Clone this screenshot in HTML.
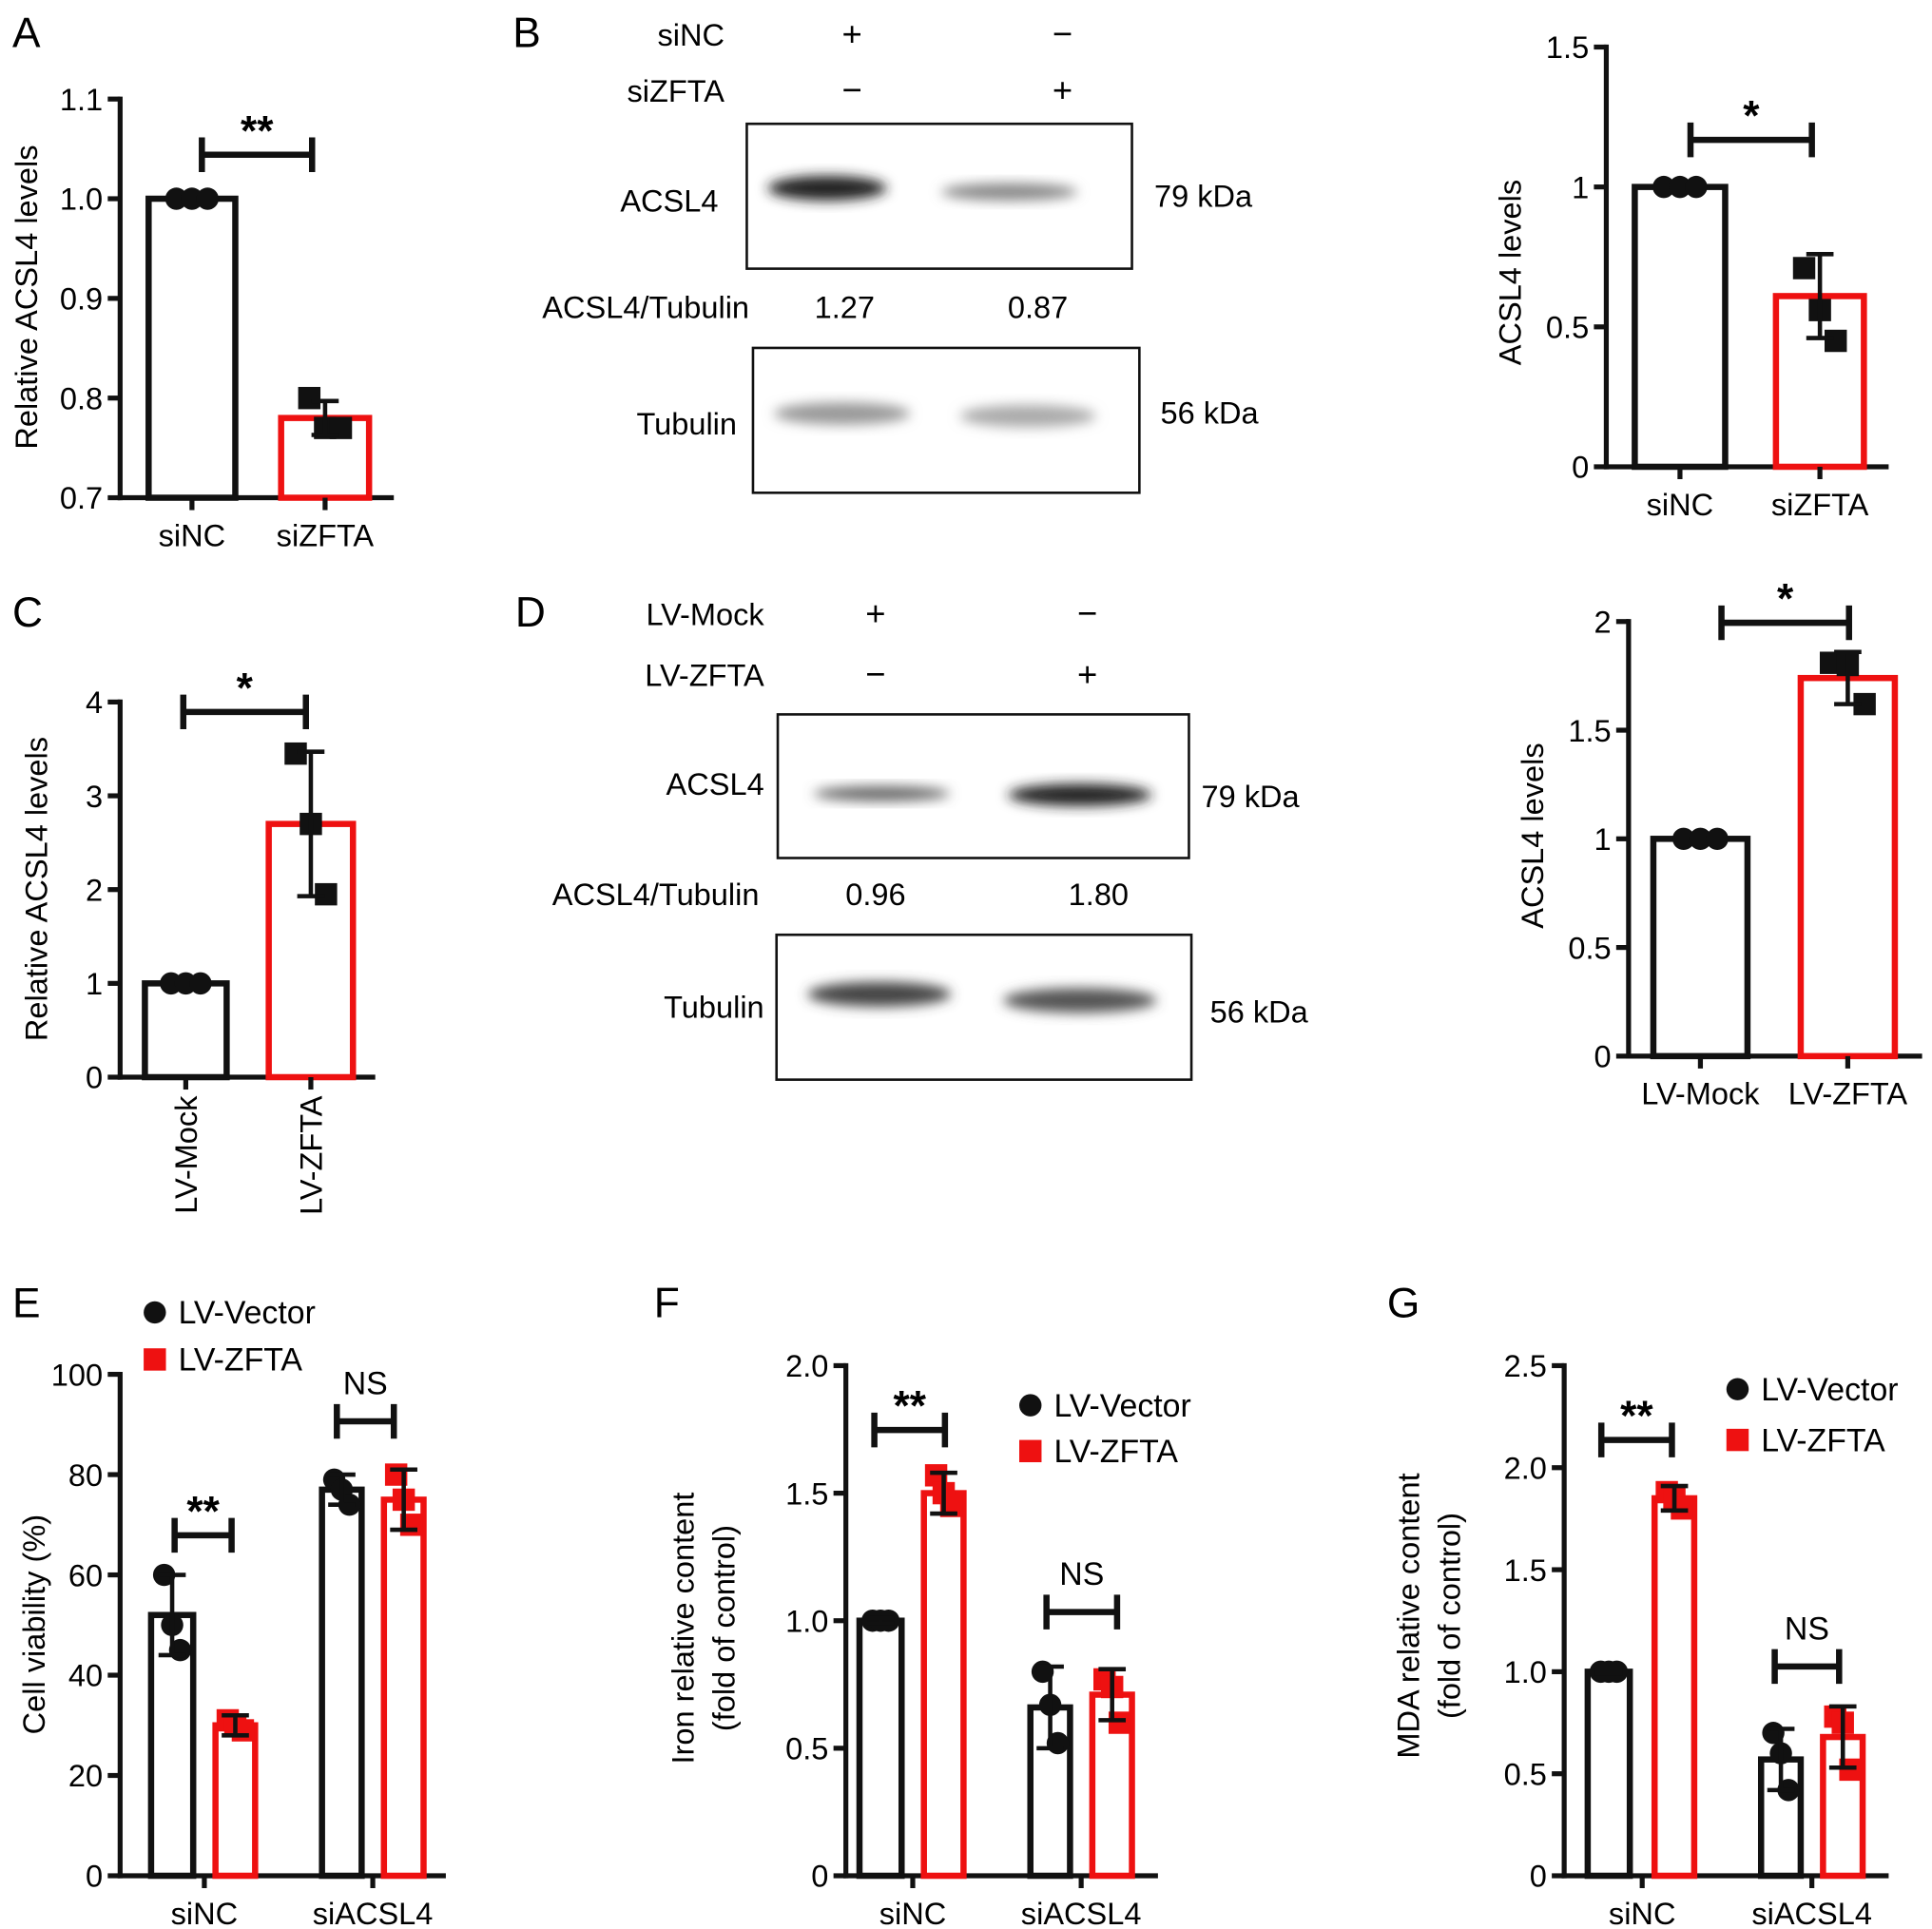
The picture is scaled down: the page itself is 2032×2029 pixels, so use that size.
<!DOCTYPE html>
<html><head><meta charset="utf-8">
<style>
html,body{margin:0;padding:0;background:#fff;}
svg{display:block;font-family:"Liberation Sans",Arial,sans-serif;}
</style></head>
<body>
<svg id="fig" width="2032" height="2029" viewBox="0 0 1560 1558" preserveAspectRatio="none" xmlns="http://www.w3.org/2000/svg">
<defs>
<filter id="blur" x="-20%" y="-50%" width="140%" height="200%"><feGaussianBlur stdDeviation="5"/></filter>
</defs>
<g id="static">
<text x="10" y="38" font-size="34">A</text>
<text x="414" y="38" font-size="34">B</text>
<text x="10" y="506" font-size="34">C</text>
<text x="416" y="506" font-size="34">D</text>
<text x="10" y="1064" font-size="34">E</text>
<text x="528" y="1064" font-size="34">F</text>
<text x="1120" y="1064" font-size="34">G</text>

<g font-size="25">
<text x="585" y="37" text-anchor="end">siNC</text>
<text x="688" y="37" text-anchor="middle" font-size="28">+</text>
<text x="858" y="37" text-anchor="middle" font-size="28">−</text>
<text x="585" y="82" text-anchor="end">siZFTA</text>
<text x="688" y="82" text-anchor="middle" font-size="28">−</text>
<text x="858" y="82" text-anchor="middle" font-size="28">+</text>
<rect x="603" y="100" width="311" height="117" fill="#fff" stroke="#111" stroke-width="2"/>
<ellipse cx="668" cy="152" rx="48" ry="10" fill="#222" filter="url(#blur)"/>
<ellipse cx="815" cy="155" rx="55" ry="7" fill="#888" filter="url(#blur)"/>
<text x="580" y="171" text-anchor="end">ACSL4</text>
<text x="932" y="167">79 kDa</text>
<text x="605" y="257" text-anchor="end">ACSL4/Tubulin</text>
<text x="682" y="257" text-anchor="middle">1.27</text>
<text x="838" y="257" text-anchor="middle">0.87</text>
<rect x="608" y="281" width="312" height="117" fill="#fff" stroke="#111" stroke-width="2"/>
<ellipse cx="680" cy="334" rx="55" ry="9" fill="#999" filter="url(#blur)"/>
<ellipse cx="830" cy="336" rx="55" ry="9" fill="#aaa" filter="url(#blur)"/>
<text x="595" y="351" text-anchor="end">Tubulin</text>
<text x="937" y="342">56 kDa</text>
</g>
<g font-size="25">
<text x="617" y="505" text-anchor="end">LV-Mock</text>
<text x="707" y="505" text-anchor="middle" font-size="28">+</text>
<text x="878" y="505" text-anchor="middle" font-size="28">−</text>
<text x="617" y="554" text-anchor="end">LV-ZFTA</text>
<text x="707" y="554" text-anchor="middle" font-size="28">−</text>
<text x="878" y="554" text-anchor="middle" font-size="28">+</text>
<rect x="628" y="577" width="332" height="116" fill="#fff" stroke="#111" stroke-width="2"/>
<ellipse cx="712" cy="641" rx="55" ry="6" fill="#666" filter="url(#blur)"/>
<ellipse cx="872" cy="642" rx="58" ry="9" fill="#222" filter="url(#blur)"/>
<text x="617" y="642" text-anchor="end">ACSL4</text>
<text x="970" y="652">79 kDa</text>
<text x="613" y="731" text-anchor="end">ACSL4/Tubulin</text>
<text x="707" y="731" text-anchor="middle">0.96</text>
<text x="887" y="731" text-anchor="middle">1.80</text>
<rect x="627" y="755" width="335" height="117" fill="#fff" stroke="#111" stroke-width="2"/>
<ellipse cx="710" cy="803" rx="58" ry="10" fill="#444" filter="url(#blur)"/>
<ellipse cx="872" cy="808" rx="62" ry="10" fill="#555" filter="url(#blur)"/>
<text x="617" y="822" text-anchor="end">Tubulin</text>
<text x="977" y="826">56 kDa</text>
</g>
</g>
<g id="charts"></g>
</svg>
<script>
// ---- Data ----
const aCats = ["siNC","siZFTA"];
const aVals = [1.0, 0.78];
const aErr = [0.0, 0.017];
const aPts = [[1.0,1.0,1.0],[0.80,0.77,0.77]];
const aTicks = [0.7,0.8,0.9,1.0,1.1];
const aTickLabels = ["0.7","0.8","0.9","1.0","1.1"];

const bCats = ["siNC","siZFTA"];
const bVals = [1.0, 0.61];
const bErr = [0.0, 0.15];
const bPts = [[1.0,1.0,1.0],[0.71,0.56,0.45]];
const bTicks = [0,0.5,1,1.5];
const bTickLabels = ["0","0.5","1","1.5"];

const cCats = ["LV-Mock","LV-ZFTA"];
const cVals = [1.0, 2.7];
const cErr = [0.0, 0.77];
const cPts = [[1.0,1.0,1.0],[3.45,2.7,1.95]];
const cTicks = [0,1,2,3,4];
const cTickLabels = ["0","1","2","3","4"];

const dCats = ["LV-Mock","LV-ZFTA"];
const dVals = [1.0, 1.74];
const dErr = [0.0, 0.12];
const dPts = [[1.0,1.0,1.0],[1.81,1.8,1.62]];
const dTicks = [0,0.5,1,1.5,2];
const dTickLabels = ["0","0.5","1","1.5","2"];

const eGroups = ["siNC","siACSL4"];
const eVector = [52, 77];
const eVectorErr = [8, 3];
const eVectorPts = [[60,50,45],[79,77,74]];
const eZfta = [30, 75];
const eZftaErr = [2, 6];
const eZftaPts = [[31,30,29],[80,75,70]];
const eTicks = [0,20,40,60,80,100];
const eTickLabels = ["0","20","40","60","80","100"];

const fGroups = ["siNC","siACSL4"];
const fVector = [1.0, 0.66];
const fVectorErr = [0.01, 0.16];
const fVectorPts = [[1.0,1.0,1.0],[0.8,0.67,0.52]];
const fZfta = [1.5, 0.71];
const fZftaErr = [0.08, 0.10];
const fZftaPts = [[1.57,1.5,1.45],[0.77,0.74,0.6]];
const fTicks = [0,0.5,1.0,1.5,2.0];
const fTickLabels = ["0","0.5","1.0","1.5","2.0"];

const gGroups = ["siNC","siACSL4"];
const gVector = [1.0, 0.57];
const gVectorErr = [0.01, 0.15];
const gVectorPts = [[1.0,1.0,1.0],[0.7,0.6,0.42]];
const gZfta = [1.85, 0.68];
const gZftaErr = [0.06, 0.15];
const gZftaPts = [[1.88,1.85,1.8],[0.78,0.75,0.52]];
const gTicks = [0,0.5,1.0,1.5,2.0,2.5];
const gTickLabels = ["0","0.5","1.0","1.5","2.0","2.5"];

const NS = "http://www.w3.org/2000/svg";
const root = document.getElementById('charts');
function mk(tag, attrs, parent, text){
  const e = document.createElementNS(NS, tag);
  for (const k in attrs) e.setAttribute(k, attrs[k]);
  if (text !== undefined) e.textContent = text;
  (parent||root).appendChild(e);
  return e;
}
function axes(g, cfg, ticks, labels){
  const y = v => cfg.y0 + (v - cfg.vmin)/(cfg.vmax - cfg.vmin)*(cfg.y1 - cfg.y0);
  const ax = mk('line',{x1:cfg.ax,y1:cfg.y1-2,x2:cfg.ax,y2:cfg.y0+2,stroke:'#111','stroke-width':4},g);
  
  
  const xx = mk('line',{x1:cfg.ax-2,y1:cfg.y0,x2:cfg.xend,y2:cfg.y0,stroke:'#111','stroke-width':4},g);
  
  
  ticks.forEach((t,i)=>{
    const yy = y(t);
    mk('line',{x1:cfg.ax-10,y1:yy,x2:cfg.ax,y2:yy,stroke:'#111','stroke-width':4},g);
    const tl = mk('text',{x:cfg.ax-14,y:yy+9,'text-anchor':'end','font-size':25},g,labels[i]);
    
    
  });
  const tt = mk('text',{x:cfg.tx,y:cfg.ty,'text-anchor':'middle','font-size':25,transform:`rotate(-90 ${cfg.tx} ${cfg.ty})`},g,cfg.title);
  
  
  if (cfg.title2){
    const t2 = mk('text',{x:cfg.tx+33,y:cfg.ty,'text-anchor':'middle','font-size':25,transform:`rotate(-90 ${cfg.tx+33} ${cfg.ty})`},g,cfg.title2);
    
    
  }
  return y;
}
function bar(g, y, x0, x1, val, err, pts, red, y0, redMarks){
  const col = red ? '#ee1111' : '#111';
  const r = mk('rect',{x:x0+2,y:y(val),width:x1-x0-4,height:y0-y(val),fill:'#fff',stroke:col,'stroke-width':5},g);
  
  
  const cx = (x0+x1)/2, w = (x1-x0);
  pts.forEach((p,i)=>{
    const px = cx + (i-1)*w*0.17;
    let m;
    if (red) m = mk('rect',{x:px-9,y:y(p)-9,width:18,height:18,fill:redMarks?'#ee1111':'#111'},g);
    else m = mk('circle',{cx:px,cy:y(p),r:9,fill:'#111'},g);
    
    
  });
  if (err > 0.0001){
    const eb = mk('path',{d:`M${cx},${y(val+err)}V${y(val-err)}M${cx-11},${y(val+err)}H${cx+11}M${cx-11},${y(val-err)}H${cx+11}`,stroke:'#111','stroke-width':3.5,fill:'none'},g);
    
    
  }
}
function bracket(g, x0, x1, yy, label){
  const p = mk('path',{d:`M${x0},${yy-14}V${yy+14}M${x0},${yy}H${x1}M${x1},${yy-14}V${yy+14}`,stroke:'#111','stroke-width':5,fill:'none'},g);
  
  
  const isNS = label==='NS';
  const t = mk('text',{x:(x0+x1)/2,y:isNS?yy-22:yy-8,'text-anchor':'middle','font-size':isNS?26:34,'font-weight':isNS?'normal':'bold'},g,label);
  
  
}
function xlabel(g, x, y0, text, rot){
  mk('line',{x1:x,y1:y0,x2:x,y2:y0+10,stroke:'#111','stroke-width':4},g);
  let t;
  if (rot) t = mk('text',{x:x+9,y:y0+15,'text-anchor':'end','font-size':25,transform:`rotate(-90 ${x+9} ${y0+15})`},g,text);
  else t = mk('text',{x:x,y:y0+39,'text-anchor':'middle','font-size':25},g,text);
  
  
}
function simple(name, cfg, cats, vals, errs, pts, ticks, labels, bars, sig, rot){
  const g = mk('g',{});
  
  
  const y = axes(g, cfg, ticks, labels);
  cats.forEach((c,i)=>{
    bar(g, y, bars[i][0], bars[i][1], vals[i], errs[i], pts[i], i===1, cfg.y0, false);
    xlabel(g, (bars[i][0]+bars[i][1])/2, cfg.y0, c, rot);
  });
  bracket(g, sig[0], sig[1], sig[2], sig[3]);
}
simple('chart-a',{ax:97,xend:318,y0:402,y1:80,vmin:0.7,vmax:1.1,tx:30,ty:240,title:'Relative ACSL4 levels'},
  aCats,aVals,aErr,aPts,aTicks,aTickLabels,[[118,192],[225,300]],[163,252,125,'**']);
simple('chart-b-quant',{ax:1297,xend:1525,y0:377,y1:38,vmin:0,vmax:1.5,tx:1228,ty:220,title:'ACSL4 levels'},
  bCats,bVals,bErr,bPts,bTicks,bTickLabels,[[1318,1395],[1432,1507]],[1365,1463,113,'*']);
simple('chart-c',{ax:97,xend:303,y0:870,y1:567,vmin:0,vmax:4,tx:38,ty:718,title:'Relative ACSL4 levels'},
  cCats,cVals,cErr,cPts,cTicks,cTickLabels,[[115,185],[215,287]],[148,247,575,'*'],true);
simple('chart-d-quant',{ax:1315,xend:1552,y0:853,y1:502,vmin:0,vmax:2,tx:1246,ty:675,title:'ACSL4 levels'},
  dCats,dVals,dErr,dPts,dTicks,dTickLabels,[[1333,1413],[1452,1532]],[1390,1493,503,'*']);

function grouped(name, cfg, groups, v, ve, vp, z, ze, zp, ticks, labels, bars, sigs, leg){
  const g = mk('g',{});
  
  
  const y = axes(g, cfg, ticks, labels);
  groups.forEach((c,i)=>{
    const b = bars[i];
    bar(g, y, b[0], b[1], v[i], ve[i], vp[i], false, cfg.y0, true);
    bar(g, y, b[2], b[3], z[i], ze[i], zp[i], true, cfg.y0, true);
    xlabel(g, (b[1]+b[2])/2, cfg.y0, c, false);
    bracket(g, sigs[i][0], sigs[i][1], sigs[i][2], sigs[i][3]);
  });
  const l1 = mk('circle',{cx:leg[0],cy:leg[1],r:9,fill:'#111'},g);
  
  
  const t1 = mk('text',{x:leg[0]+19,y:leg[1]+9,'font-size':26},g,'LV-Vector');
  
  
  const l2 = mk('rect',{x:leg[0]-9,y:leg[1]+leg[2]-9,width:18,height:18,fill:'#ee1111'},g);
  
  
  const t2 = mk('text',{x:leg[0]+19,y:leg[1]+leg[2]+9,'font-size':26},g,'LV-ZFTA');
  
  
}
grouped('chart-e',{ax:97,xend:360,y0:1515,y1:1110,vmin:0,vmax:100,tx:36,ty:1312,title:'Cell viability (%)'},
  eGroups,eVector,eVectorErr,eVectorPts,eZfta,eZftaErr,eZftaPts,eTicks,eTickLabels,
  [[120,158,172,208],[258,294,308,344]],[[141,187,1240,'**'],[272,318,1148,'NS']],[125,1060,38]);
grouped('chart-f',{ax:683,xend:935,y0:1515,y1:1103,vmin:0,vmax:2,tx:560,ty:1315,title:'Iron relative content',title2:'(fold of control)'},
  fGroups,fVector,fVectorErr,fVectorPts,fZfta,fZftaErr,fZftaPts,fTicks,fTickLabels,
  [[692,730,744,780],[830,866,880,916]],[[706,763,1155,'**'],[845,902,1302,'NS']],[832,1135,37]);
grouped('chart-g',{ax:1263,xend:1525,y0:1515,y1:1103,vmin:0,vmax:2.5,tx:1146,ty:1305,title:'MDA relative content',title2:'(fold of control)'},
  gGroups,gVector,gVectorErr,gVectorPts,gZfta,gZftaErr,gZftaPts,gTicks,gTickLabels,
  [[1280,1318,1334,1370],[1420,1456,1470,1506]],[[1293,1350,1163,'**'],[1433,1485,1346,'NS']],[1403,1122,41]);
</script>
</body></html>
